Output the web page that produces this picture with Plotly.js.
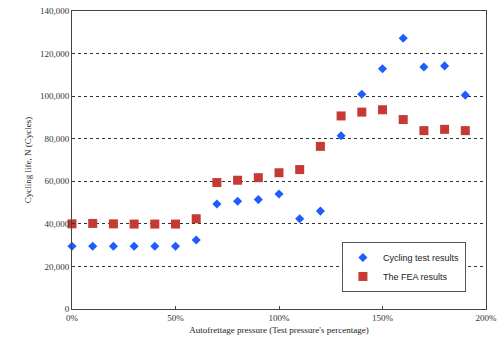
<!DOCTYPE html>
<html><head><meta charset="utf-8">
<script src="https://cdn.plot.ly/plotly-3.0.1.min.js"></script>
<style>html,body{margin:0;padding:0;background:#fff}#c{width:502px;height:344px}</style>
</head><body><div id="c"></div>
<script>
const pressure = [0,10,20,30,40,50,60,70,80,90,100,110,120,130,140,150,160,170,180,190];
const cyclingTest = [29500,29500,29500,29500,29500,29500,32400,49300,50600,51400,54000,42400,46000,81400,100900,112900,127200,113700,114200,100500];
const feaResults = [40000,40200,40000,39900,39900,39900,42400,59400,60500,61700,64000,65500,76400,90700,92500,93600,89000,83800,84400,83800];
const xTickVals = [0,50,100,150,200];
const xTickText = ['0%','50%','100%','150%','200%'];

const serif = 'Liberation Serif, Times New Roman, serif';
const traces = [
  {x: pressure, y: cyclingTest, type:'scatter', mode:'markers', name:'Cycling test results',
   marker:{symbol:'diamond', size:7, color:'#1f5cff'}, cliponaxis:false},
  {x: pressure, y: feaResults, type:'scatter', mode:'markers', name:'The FEA results',
   marker:{symbol:'square', size:9, color:'#c53a33'}, cliponaxis:false}
];
const layout = {
  width:502, height:344,
  margin:{l:72, r:16, t:11, b:35},
  paper_bgcolor:'#fff', plot_bgcolor:'#fff',
  showlegend:true,
  legend:{x:0.652, y:0.225, xanchor:'left', yanchor:'top',
    bgcolor:'#fff', bordercolor:'#555', borderwidth:1,
    font:{family:'Liberation Sans, Arial, sans-serif', size:9, color:'#222'},
    itemwidth:30, tracegroupgap:0},
  xaxis:{range:[0,200], tickvals:xTickVals, ticktext:xTickText,
    showgrid:false, zeroline:false, showline:true, mirror:true, linecolor:'#444', linewidth:1,
    ticks:'inside', ticklen:3, tickcolor:'#444',
    tickfont:{family:serif, size:9, color:'#333'},
    title:{text:"Autofrettage pressure (Test pressure's percentage)", font:{family:serif, size:9, color:'#222'}, standoff:4}},
  yaxis:{range:[0,140000], dtick:20000, tickformat:',d',
    showgrid:true, gridcolor:'#333', griddash:'dot', gridwidth:1,
    zeroline:false, showline:true, mirror:true, linecolor:'#444', linewidth:1,
    ticks:'inside', ticklen:3, tickcolor:'#333',
    tickfont:{family:serif, size:9, color:'#333'},
    title:{text:'Cycling life, N (Cycles)', font:{family:serif, size:9, color:'#222'}, standoff:6}}
};
Plotly.newPlot('c', traces, layout, {displayModeBar:false, staticPlot:true});
</script></body></html>
